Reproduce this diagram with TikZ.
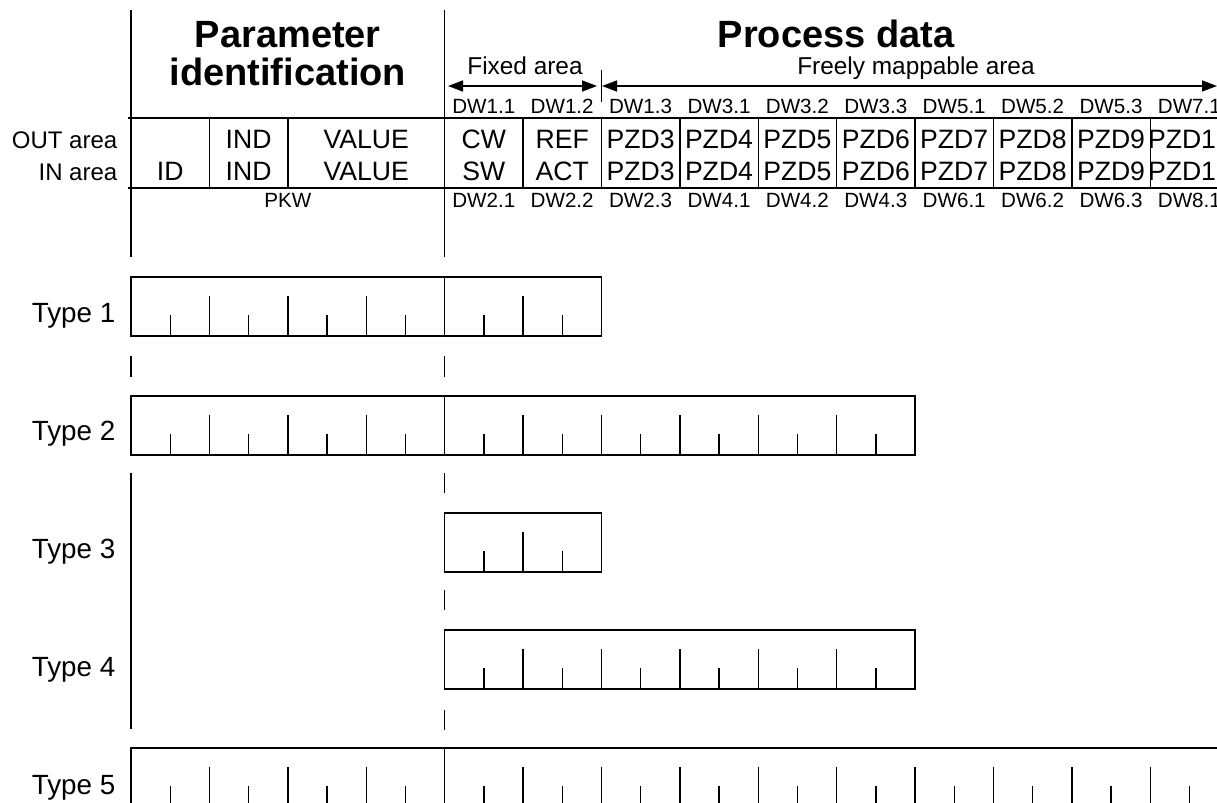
\documentclass[tikz,border=0pt]{standalone}
\usepackage{fontspec}
\setmainfont{Liberation Sans}
\usetikzlibrary{arrows.meta}

\begin{document}
\begin{tikzpicture}[x=0.5pt, y=-0.5pt, line width=0.7pt,
  every node/.style={inner sep=0pt, anchor=base},
  headtext/.style={font=\fontsize{19}{23}\selectfont\bfseries},
  areatext/.style={font=\fontsize{12.2}{14}\selectfont},
  dwtext/.style={font=\fontsize{10.3}{12}\selectfont},
  celltext/.style={font=\fontsize{13.3}{16}\selectfont},
  rowtext/.style={font=\fontsize{12}{14}\selectfont, anchor=base east},
  typetext/.style={font=\fontsize{13.9}{16}\selectfont, anchor=base east},
  bothheads/.style={{Triangle[length=7.5pt, width=5.5pt]}-{Triangle[length=7.5pt, width=5.5pt]}}]
%definitions
\def\w{39.2}
\def\xa{131}
\def\xb{444.6}
\def\wordbox#1#2#3{% words #1 to #2, top edge #3
  \draw (\xa+#1*\w,#3) rectangle (\xa+#2*\w,#3+59);
  \pgfmathtruncatemacro{\kfirst}{#1+1}
  \pgfmathtruncatemacro{\klast}{#2-1}
  \foreach \k in {\kfirst,...,\klast}{
    \pgfmathsetmacro{\kgap}{\k==8 ? 0 : (mod(\k,2)==0 ? 19 : 38)}
    \draw (\xa+\k*\w,#3+\kgap) -- (\xa+\k*\w,#3+59);
  }}

\useasboundingbox (0,0) rectangle (1217,803);

%headings
\node[headtext] (parhead) at (287.8,47) {Parameter};
\node[headtext] (idhead) at (287.8,85) {identification};
\node[headtext] (prochead) at (836,47) {Process data};
\node[areatext] (fixed) at (525,75) {Fixed area};
\node[areatext] (free) at (916,75) {Freely mappable area};

%arrows
\draw[bothheads] (448,86) -- (597,86);
\draw[bothheads] (602,86) -- (1217,86);
\draw (601.4,70) -- (601.4,102);

%table
\draw (128,118) -- (1217,118);
\draw (128,188) -- (1217,188);
\foreach \k in {2,4} \draw (\xa+\k*\w,118) -- (\xa+\k*\w,188);
\foreach \k in {10,12,...,26} \draw (\xa+\k*\w,118) -- (\xa+\k*\w,188);

\node[rowtext] (outrow) at (118,148) {OUT area};
\node[rowtext] (inrow) at (118,180) {IN area};
\node[celltext] (id) at (170.2,180) {ID};
\node[celltext] (indout) at (248.6,148) {IND};
\node[celltext] (indin) at (248.6,180) {IND};
\node[celltext] (valout) at (366.2,148) {VALUE};
\node[celltext] (valin) at (366.2,180) {VALUE};
\node[dwtext] (pkw) at (287.8,207) {PKW};

\foreach \dwout/\outtxt/\intxt/\dwin [count=\i from 0] in
  {DW1.1/CW/SW/DW2.1, DW1.2/REF/ACT/DW2.2, DW1.3/PZD3/PZD3/DW2.3,
   DW3.1/PZD4/PZD4/DW4.1, DW3.2/PZD5/PZD5/DW4.2, DW3.3/PZD6/PZD6/DW4.3,
   DW5.1/PZD7/PZD7/DW6.1, DW5.2/PZD8/PZD8/DW6.2, DW5.3/PZD9/PZD9/DW6.3,
   DW7.1/PZD10/PZD10/DW8.1}{
  \node[dwtext] (dwo\i) at (\xb+\w+2*\i*\w,113) {\dwout};
  \node[celltext] (pzdo\i) at (\xb+\w+2*\i*\w,148) {\outtxt};
  \node[celltext] (pzdi\i) at (\xb+\w+2*\i*\w,180) {\intxt};
  \node[dwtext] (dwi\i) at (\xb+\w+2*\i*\w,207) {\dwin};
}

%separators
\foreach \x in {\xa,\xb}{
  \draw (\x,10) -- (\x,257);
  \draw (\x,356) -- (\x,377);
}
\draw (\xa,473) -- (\xa,729);
\foreach \y in {473,590,710} \draw (\xb,\y) -- (\xb,\y+20);

%types
\wordbox{0}{12}{277}
\wordbox{0}{20}{396}
\wordbox{8}{12}{513}
\wordbox{8}{20}{630}
\wordbox{0}{28}{748}
\foreach \n in {1,...,5} \node[typetext] (type\n) at (116,204+118*\n) {Type \n};
\end{tikzpicture}
\end{document}
